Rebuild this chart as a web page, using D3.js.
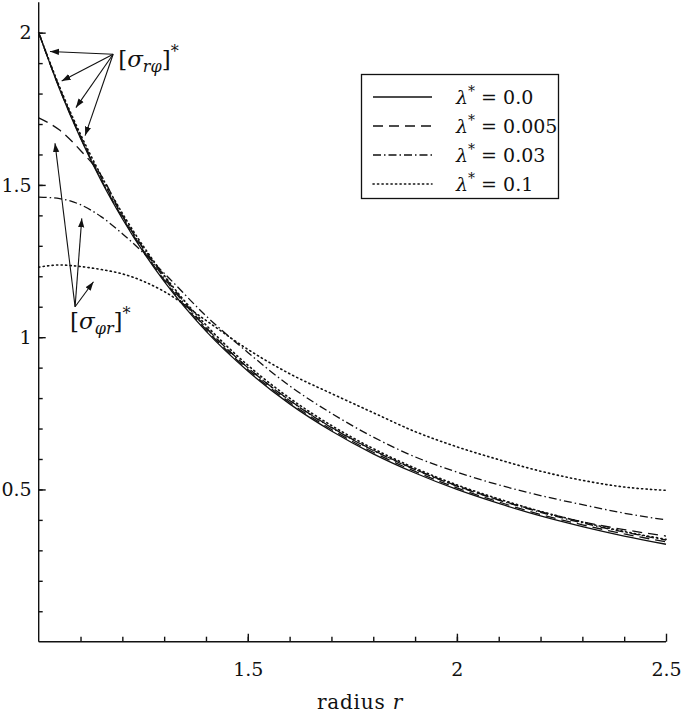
<!DOCTYPE html>
<html>
<head>
<meta charset="utf-8">
<script src="https://cdn.jsdelivr.net/npm/d3@7"></script>
<style>
    body { margin: 0; background: #fff; }
    svg { display: block; }
    text { font-family: "DejaVu Serif", "Liberation Serif", serif; fill: #111; }
</style>
</head>
<body>
<svg id="chart" width="685" height="713"></svg>
<script>
// radius grid and stress values
const radii = [1, 1.05, 1.1, 1.15, 1.2, 1.3, 1.4, 1.5, 1.6, 1.7, 1.8, 1.9, 2.0, 2.1, 2.2, 2.3, 2.4, 2.5];
const lambdaLabels = ["0.0", "0.005", "0.03", "0.1"];

// lambda* = 0 : both components coincide
const stressLambda0 = [2.000, 1.814, 1.653, 1.512, 1.389, 1.183, 1.020, 0.889, 0.781, 0.692, 0.617, 0.554, 0.500, 0.454, 0.413, 0.378, 0.347, 0.320];

// [sigma_r phi]*
const sigmaRphi005 = [2.000, 1.816, 1.656, 1.516, 1.393, 1.188, 1.025, 0.894, 0.786, 0.697, 0.622, 0.559, 0.505, 0.459, 0.418, 0.384, 0.354, 0.328];
const sigmaRphi03 = [2.000, 1.818, 1.660, 1.521, 1.399, 1.194, 1.031, 0.900, 0.792, 0.703, 0.628, 0.565, 0.511, 0.465, 0.425, 0.390, 0.360, 0.334];
const sigmaRphi1 = [2.000, 1.822, 1.666, 1.529, 1.407, 1.203, 1.040, 0.908, 0.800, 0.710, 0.634, 0.570, 0.515, 0.469, 0.428, 0.393, 0.362, 0.336];

// [sigma_phi r]*
const sigmaPhiR005 = [1.720, 1.680, 1.613, 1.530, 1.400, 1.200, 1.032, 0.900, 0.793, 0.704, 0.629, 0.566, 0.512, 0.466, 0.427, 0.394, 0.368, 0.347];
const sigmaPhiR03 = [1.460, 1.455, 1.435, 1.395, 1.340, 1.210, 1.070, 0.950, 0.840, 0.750, 0.672, 0.607, 0.557, 0.515, 0.480, 0.450, 0.422, 0.400];
const sigmaPhiR1 = [1.230, 1.237, 1.232, 1.222, 1.208, 1.150, 1.055, 0.960, 0.880, 0.815, 0.752, 0.690, 0.640, 0.598, 0.560, 0.530, 0.508, 0.497];

const dashStyles = ["none", "10,6", "8,3,1.5,3", "1.2,3.3"];

const series = [
    { values: stressLambda0, style: 0 },
    { values: sigmaRphi005, style: 1 },
    { values: sigmaRphi03, style: 2 },
    { values: sigmaRphi1, style: 3 },
    { values: sigmaPhiR005, style: 1 },
    { values: sigmaPhiR03, style: 2 },
    { values: sigmaPhiR1, style: 3 }
];

const svg = d3.select("#chart");

const x = d3.scaleLinear().domain([1, 2.5]).range([38.7, 666]);
const y = d3.scaleLinear().domain([0, 2.1]).range([641.7, 2.2]);

// axes with inward ticks
const xMinor = d3.range(11, 25).map(d => d / 10);
const yMinor = d3.range(1, 21).map(d => d / 10);

const xAxisG = svg.append("g").attr("transform", `translate(0,${y(0)})`);
xAxisG.append("g")
    .call(d3.axisBottom(x).tickValues(xMinor).tickSize(-5).tickSizeOuter(0).tickFormat(""))
    .call(g => g.select(".domain").remove());
xAxisG.append("g")
    .call(d3.axisBottom(x).tickValues([1.5, 2, 2.5]).tickSize(-8).tickSizeOuter(0).tickPadding(21).tickFormat(d3.format("")))
    .call(g => g.select(".domain").attr("d", `M${x(1)},0H${x(2.5)}`));

const yAxisG = svg.append("g").attr("transform", `translate(${x(1)},0)`);
yAxisG.append("g")
    .call(d3.axisLeft(y).tickValues(yMinor).tickSize(-4).tickSizeOuter(0).tickFormat(""))
    .call(g => g.select(".domain").remove());
yAxisG.append("g")
    .call(d3.axisLeft(y).tickValues([0.5, 1, 1.5, 2]).tickSize(-7).tickSizeOuter(0).tickPadding(7).tickFormat(d3.format("")))
    .call(g => g.select(".domain").attr("d", `M0,${y(0)}V${y(2.1)}`));

svg.selectAll(".domain, .tick line").attr("stroke", "#111").attr("stroke-width", 1.4);
svg.selectAll(".tick text").attr("font-size", 19).attr("font-family", "DejaVu Serif").attr("fill", "#111");

// x label
svg.append("text")
    .attr("x", 360)
    .attr("y", 709)
    .attr("text-anchor", "middle")
    .attr("font-size", 20)
    .attr("letter-spacing", 0.8)
    .call(t => t.append("tspan").text("radius "))
    .call(t => t.append("tspan").attr("font-style", "italic").text("r"));

// curves
const line = d3.line()
    .x((d, i) => x(radii[i]))
    .y(d => y(d))
    .curve(d3.curveMonotoneX);

svg.append("g")
    .selectAll("path")
    .data(series)
    .join("path")
    .attr("fill", "none")
    .attr("stroke", "#111")
    .attr("stroke-width", d => d.style === 3 ? 1.6 : 1.3)
    .attr("stroke-dasharray", d => dashStyles[d.style])
    .attr("stroke-linecap", d => d.style === 3 ? "round" : "butt")
    .attr("d", d => line(d.values));

// legend
const legend = svg.append("g");
legend.append("rect")
    .attr("x", 361.5).attr("y", 74.5)
    .attr("width", 197).attr("height", 124)
    .attr("fill", "#fff").attr("stroke", "#111").attr("stroke-width", 1.3);

const legendRows = legend.selectAll(".row")
    .data(lambdaLabels)
    .join("g")
    .attr("class", "row")
    .attr("transform", (d, i) => `translate(0,${97 + i * 29})`);

legendRows.append("line")
    .attr("x1", 373).attr("x2", 432)
    .attr("stroke", "#111")
    .attr("stroke-width", (d, i) => i === 3 ? 1.6 : 1.3)
    .attr("stroke-dasharray", (d, i) => dashStyles[i])
    .attr("stroke-linecap", (d, i) => i === 3 ? "round" : "butt");

legendRows.append("text")
    .attr("x", 456)
    .attr("y", 7)
    .attr("font-size", 19)
    .call(t => t.append("tspan").attr("font-style", "italic").text("λ"))
    .call(t => t.append("tspan").attr("font-size", 14).attr("dy", -8).text("*"))
    .call(t => t.append("tspan").attr("dy", 8).text(" = "))
    .call(t => t.append("tspan").text(d => d));

// annotations with arrows
svg.append("defs").append("marker")
    .attr("id", "head")
    .attr("viewBox", "0 0 10 10")
    .attr("refX", 10).attr("refY", 5)
    .attr("markerWidth", 9).attr("markerHeight", 9)
    .attr("markerUnits", "userSpaceOnUse")
    .attr("orient", "auto")
    .append("path")
    .attr("d", "M0,1.5L10,5L0,8.5Z")
    .attr("fill", "#111");

const annotations = [
    { label: "rφ", at: [1.19, 1.887], from: [1.178, 1.929], tips: [[1.027, 1.938], [1.055, 1.841], [1.089, 1.754], [1.111, 1.662]] },
    { label: "φr", at: [1.075, 1.027], from: [1.087, 1.100], tips: [[1.039, 1.637], [1.103, 1.390], [1.131, 1.182]] }
];

annotations.forEach(a => {
    svg.append("g")
        .selectAll("line")
        .data(a.tips)
        .join("line")
        .attr("x1", x(a.from[0])).attr("y1", y(a.from[1]))
        .attr("x2", d => x(d[0])).attr("y2", d => y(d[1]))
        .attr("stroke", "#111")
        .attr("stroke-width", 1.1)
        .attr("marker-end", "url(#head)");

    svg.append("text")
        .attr("x", x(a.at[0]))
        .attr("y", y(a.at[1]))
        .attr("font-size", 23)
        .call(t => t.append("tspan").text("["))
        .call(t => t.append("tspan").attr("font-style", "italic").text("σ"))
        .call(t => t.append("tspan").attr("font-style", "italic").attr("font-size", 16).attr("dy", 5).text(a.label))
        .call(t => t.append("tspan").attr("dy", -5).text("]"))
        .call(t => t.append("tspan").attr("font-size", 16).attr("dy", -10).text("*"));
});
</script>
</body>
</html>
